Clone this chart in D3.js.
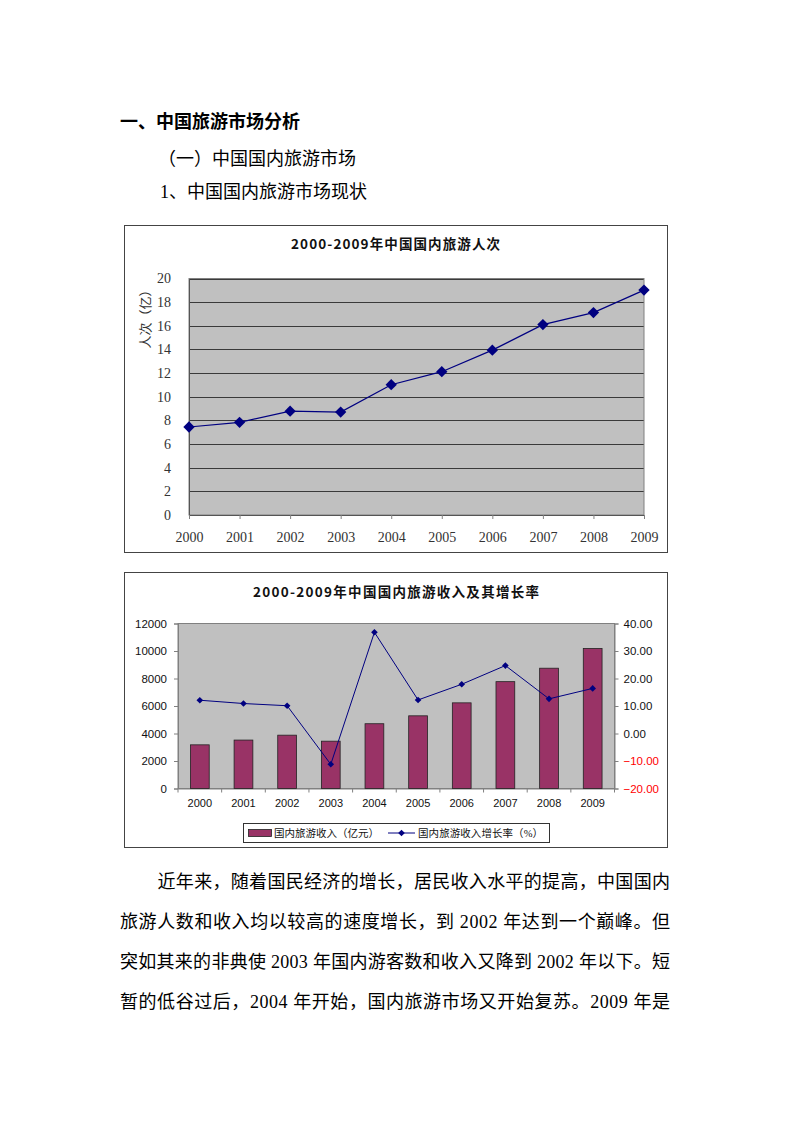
<!DOCTYPE html>
<html><head><meta charset="utf-8">
<script src="https://cdn.jsdelivr.net/npm/d3@7"></script>
<style>body{margin:0;background:#fff}svg{display:block}</style>
</head><body>
<svg id="page" width="793" height="1122"></svg>
<script>
const years = ["2000","2001","2002","2003","2004","2005","2006","2007","2008","2009"];
const visitors = [7.44, 7.84, 8.78, 8.70, 11.02, 12.12, 13.94, 16.10, 17.12, 19.02];
const visitorTicks = [0,2,4,6,8,10,12,14,16,18,20];
const revenue = [3175.5, 3522.4, 3878.4, 3442.3, 4710.7, 5285.9, 6229.7, 7770.6, 8749.3, 10183.7];
const growth = [12.1, 10.9, 10.1, -11.2, 36.8, 12.2, 17.9, 24.7, 12.6, 16.4];
const revenueTicks = [0,2000,4000,6000,8000,10000,12000];
const growthTicks = [-20,-10,0,10,20,30,40];
const title1 = "2000-2009年中国国内旅游人次";
const title2 = "2000-2009年中国国内旅游收入及其增长率";
const yTitle1 = "人次（亿）";
const legendLabels = ["国内旅游收入（亿元）","国内旅游收入增长率（%）"];
const headings = ["一、中国旅游市场分析","（一）中国国内旅游市场","1、中国国内旅游市场现状"];
const paragraph = [
 "近年来，随着国民经济的增长，居民收入水平的提高，中国国内",
 "旅游人数和收入均以较高的速度增长，到 2002 年达到一个巅峰。但",
 "突如其来的非典使 2003 年国内游客数和收入又降到 2002 年以下。短",
 "暂的低谷过后，2004 年开始，国内旅游市场又开始复苏。2009 年是"
];

const svg = d3.select("#page");
svg.append("rect").attr("width",793).attr("height",1122).attr("fill","#fff");
const SERIF = "'Liberation Serif','Noto Sans CJK SC',serif";
const SANS = "'Liberation Sans','Noto Sans CJK SC',sans-serif";

// ---- Headings ----
svg.append("text").attr("x",120).attr("y",120).attr("dominant-baseline","central")
  .attr("font-family","'Noto Sans CJK SC',sans-serif").attr("font-weight",700).attr("font-size",18)
  .attr("fill","#000").text(headings[0]);
svg.append("text").attr("x",158).attr("y",159).attr("dominant-baseline","central")
  .attr("font-family",SERIF).attr("font-size",18).attr("fill","#000").text(headings[1]);
svg.append("text").attr("x",160).attr("y",192).attr("dominant-baseline","central")
  .attr("font-family",SERIF).attr("font-size",18).attr("fill","#000").text(headings[2]);

// ---- Chart 1 ----
{
  const g = svg.append("g");
  g.append("rect").attr("x",124.5).attr("y",225.5).attr("width",543).attr("height",327)
    .attr("fill","#fff").attr("stroke","#444").attr("stroke-width",1);
  const L=189, R=644, T=278.5, B=515;
  const x = d3.scalePoint().domain(years).range([L,R]).padding(0);
  const y = d3.scaleLinear().domain([0,20]).range([B,T]);
  g.append("rect").attr("x",L).attr("y",T).attr("width",R-L).attr("height",B-T).attr("fill","#c0c0c0");
  g.append("g").selectAll("line").data(visitorTicks.filter(d=>d>0)).join("line")
    .attr("x1",L).attr("x2",R).attr("y1",d=>Math.round(y(d))+0.5).attr("y2",d=>Math.round(y(d))+0.5)
    .attr("stroke","#3a3a3a").attr("stroke-width",1);
  g.append("rect").attr("x",L).attr("y",T).attr("width",R-L).attr("height",B-T)
    .attr("fill","none").attr("stroke","#808080");
  const ya = g.append("g").attr("transform",`translate(${L},0)`)
    .call(d3.axisLeft(y).tickValues(visitorTicks).tickSize(0).tickPadding(18).tickFormat(d3.format("d")));
  ya.select(".domain").attr("stroke","#555");
  ya.selectAll("text").attr("font-family",SERIF).attr("font-size",14).attr("fill","#333");
  const xa = g.append("g").attr("transform",`translate(0,${B})`)
    .call(d3.axisBottom(x).tickSize(4).tickPadding(13));
  xa.select(".domain").attr("stroke","#555");
  xa.selectAll(".tick line").attr("stroke","#808080");
  xa.selectAll("text").attr("font-family",SERIF).attr("font-size",14).attr("fill","#333");
  g.append("text").attr("transform","translate(145,316) rotate(-90)").attr("text-anchor","middle")
    .attr("dominant-baseline","central").attr("font-family",SERIF).attr("font-size",13).attr("fill","#333").text(yTitle1);
  g.append("text").attr("x",395.5).attr("y",243).attr("text-anchor","middle").attr("dominant-baseline","central")
    .attr("font-family","'Noto Sans CJK SC',sans-serif").attr("font-weight",700).attr("font-size",13.5)
    .attr("textLength",209).attr("lengthAdjust","spacing").attr("fill","#111").text(title1);
  const line = d3.line().x((d,i)=>x(years[i])).y(d=>y(d));
  g.append("path").attr("d",line(visitors)).attr("fill","none").attr("stroke","#000080").attr("stroke-width",1.2);
  g.append("g").selectAll("path").data(visitors).join("path")
    .attr("d",d3.symbol(d3.symbolSquare,64))
    .attr("transform",(d,i)=>`translate(${x(years[i])},${y(d)}) rotate(45)`)
    .attr("fill","#000080");
}

// ---- Chart 2 ----
{
  const g = svg.append("g");
  g.append("rect").attr("x",124.5).attr("y",572.5).attr("width",543).attr("height",275)
    .attr("fill","#fff").attr("stroke","#444").attr("stroke-width",1);
  const L=178, R=614.5, T=623.5, B=788.5;
  const x = d3.scaleBand().domain(years).range([L,R]).paddingInner(0.57).paddingOuter(0.285);
  const yl = d3.scaleLinear().domain([0,12000]).range([B,T]);
  const yr = d3.scaleLinear().domain([-20,40]).range([B,T]);
  g.append("rect").attr("x",L).attr("y",T).attr("width",R-L).attr("height",B-T)
    .attr("fill","#c0c0c0").attr("stroke","#808080");
  const la = g.append("g").attr("transform",`translate(${L},0)`)
    .call(d3.axisLeft(yl).tickValues(revenueTicks).tickSize(4).tickPadding(7).tickFormat(d3.format("d")));
  la.select(".domain").attr("stroke","#808080");
  la.selectAll(".tick line").attr("stroke","#808080");
  la.selectAll("text").attr("font-family",SANS).attr("font-size",11.5).attr("fill","#111");
  const ra = g.append("g").attr("transform",`translate(${R},0)`)
    .call(d3.axisRight(yr).tickValues(growthTicks).tickSize(4).tickPadding(5).tickFormat(d3.format(".2f")));
  ra.select(".domain").attr("stroke","#808080");
  ra.selectAll(".tick line").attr("stroke","#808080");
  ra.selectAll("text").attr("font-family",SANS).attr("font-size",11.5)
    .attr("fill",d=>d<0?"#ff0000":"#111");
  const step = x.step();
  const xa = g.append("g").attr("transform",`translate(0,${B})`)
    .call(d3.axisBottom(x).tickSize(0).tickPadding(11));
  xa.select(".domain").attr("stroke","#808080");
  xa.selectAll("text").attr("font-family",SANS).attr("font-size",11).attr("fill","#111");
  g.append("g").selectAll("line").data(d3.range(years.length+1)).join("line")
    .attr("x1",i=>L+i*step).attr("x2",i=>L+i*step).attr("y1",B).attr("y2",B+4).attr("stroke","#808080");
  g.append("g").selectAll("rect").data(revenue).join("rect")
    .attr("x",(d,i)=>x(years[i])).attr("width",x.bandwidth())
    .attr("y",d=>yl(d)).attr("height",d=>B-yl(d))
    .attr("fill","#993366").attr("stroke","#222").attr("stroke-width",0.8);
  const cx = i=>x(years[i])+x.bandwidth()/2;
  g.append("path").attr("d",d3.line().x((d,i)=>cx(i)).y(d=>yr(d))(growth))
    .attr("fill","none").attr("stroke","#000080").attr("stroke-width",1);
  g.append("g").selectAll("path").data(growth).join("path")
    .attr("d",d3.symbol(d3.symbolSquare,22))
    .attr("transform",(d,i)=>`translate(${cx(i)},${yr(d)}) rotate(45)`).attr("fill","#000080");
  g.append("text").attr("x",396).attr("y",591).attr("text-anchor","middle").attr("dominant-baseline","central")
    .attr("font-family","'Noto Sans CJK SC',sans-serif").attr("font-weight",700).attr("font-size",13.5)
    .attr("textLength",286).attr("lengthAdjust","spacing").attr("fill","#111").text(title2);
  // legend
  g.append("rect").attr("x",243.5).attr("y",823.5).attr("width",306).attr("height",19)
    .attr("fill","#fff").attr("stroke","#333");
  g.append("rect").attr("x",248.5).attr("y",829.5).attr("width",23).attr("height",7)
    .attr("fill","#993366").attr("stroke","#222").attr("stroke-width",0.8);
  g.append("text").attr("x",274).attr("y",833).attr("dominant-baseline","central")
    .attr("font-family",SERIF).attr("font-size",10.5).attr("fill","#111")
    .attr("textLength",105).attr("lengthAdjust","spacing").text(legendLabels[0]);
  g.append("line").attr("x1",388).attr("x2",415).attr("y1",833).attr("y2",833).attr("stroke","#000080");
  g.append("path").attr("d",d3.symbol(d3.symbolSquare,22)).attr("transform","translate(401.5,833) rotate(45)").attr("fill","#000080");
  g.append("text").attr("x",418).attr("y",833).attr("dominant-baseline","central")
    .attr("font-family",SERIF).attr("font-size",10.5).attr("fill","#111")
    .attr("textLength",125).attr("lengthAdjust","spacing").text(legendLabels[1]);
}

// ---- Paragraph ----
paragraph.forEach((t,i)=>{
  const x0 = i===0?157.5:120;
  svg.append("text").attr("x",x0).attr("y",882+i*40).attr("dominant-baseline","central")
    .attr("font-family",SERIF).attr("font-size",18).attr("fill","#000")
    .attr("textLength",670-x0).attr("lengthAdjust","spacing").text(t);
});
</script>
</body></html>
